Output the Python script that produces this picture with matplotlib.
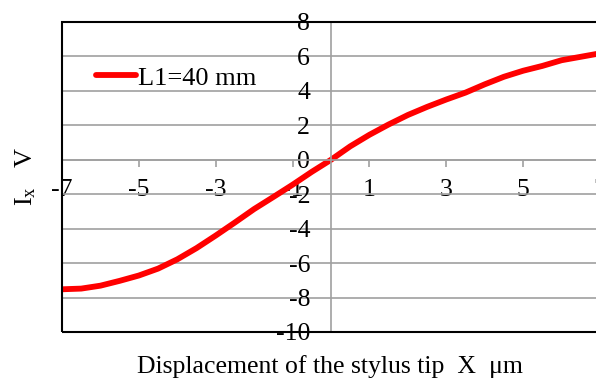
import matplotlib
matplotlib.use("Agg")
import matplotlib.pyplot as plt
from matplotlib.patches import Rectangle

# stylus tip displacement (um) and output Ix (V)
x_um = [-7, -6.5, -6, -5.5, -5, -4.5, -4, -3.5, -3, -2.5, -2, -1.5, -1, -0.5,
        0, 0.5, 1, 1.5, 2, 2.5, 3, 3.5, 4, 4.5, 5, 5.5, 6, 6.5, 7]
ix_volts = [-7.52, -7.48, -7.31, -7.03, -6.72, -6.32, -5.78, -5.13, -4.40, -3.64,
            -2.86, -2.16, -1.45, -0.70, 0.0, 0.78, 1.45, 2.05, 2.6, 3.07,
            3.5, 3.9, 4.38, 4.82, 5.17, 5.45, 5.78, 5.98, 6.18]
series_label = "L1=40 mm"
x_ticks = [-7, -5, -3, -1, 1, 3, 5, 7]
y_ticks = [-10, -8, -6, -4, -2, 0, 2, 4, 6, 8]

plt.rcParams['font.family'] = ['Liberation Serif', 'DejaVu Serif']
plt.rcParams['mathtext.fontset'] = 'custom'
plt.rcParams['mathtext.rm'] = 'Liberation Serif'
plt.rcParams['mathtext.it'] = 'Liberation Serif:italic'
plt.rcParams['axes.unicode_minus'] = False

grid_col = '#a0a0a0'

fig = plt.figure(figsize=(5.96, 3.83), dpi=100)
ax = fig.add_axes([62 / 596, 1 - 332 / 383, 538 / 596, 310 / 383])

ax.plot(x_um, ix_volts, color='#ff0000', lw=4.2, solid_capstyle='round',
        solid_joinstyle='round', label=series_label)

ax.set_xlim(-7, 7)
ax.set_ylim(-10, 8)

# axes cross at zero, drawn grey like the gridlines
for side in ['left', 'bottom']:
    ax.spines[side].set_position(('data', 0))
    ax.spines[side].set_color(grid_col)
    ax.spines[side].set_linewidth(1.2)
ax.spines['top'].set_visible(False)
ax.spines['right'].set_visible(False)
ax.add_patch(Rectangle((0, 0), 1, 1, transform=ax.transAxes, fill=False,
                       ec='black', lw=1.5, zorder=5, clip_on=False))

ax.set_yticks(y_ticks)
ax.set_xticks(x_ticks)
ax.yaxis.grid(True, color=grid_col, lw=1.2)
ax.set_axisbelow(True)
ax.tick_params(axis='y', length=0, pad=15, labelsize=18.5)
ax.tick_params(axis='x', direction='out', length=5, width=1.2, color=grid_col,
               pad=9, labelsize=18.5)

ax.set_xlabel("Displacement of the stylus tip  X  \u03bcm", fontsize=18.5)
ax.xaxis.set_label_coords((330 - 62) / 538, -(355 - 332) / 310)
ax.set_ylabel(r"$\mathregular{I_x}$   V", fontsize=19)
ax.yaxis.set_label_coords(-(62 - 38) / 538, 1 - (176 - 22) / 310)

leg = ax.legend(loc='center left', bbox_to_anchor=((96 - 62) / 538, 1 - (78 - 22) / 310),
                frameon=False, fontsize=19, handlelength=1.5, handletextpad=0.1,
                borderpad=0, borderaxespad=0)

fig.savefig("out.png", dpi=100)
